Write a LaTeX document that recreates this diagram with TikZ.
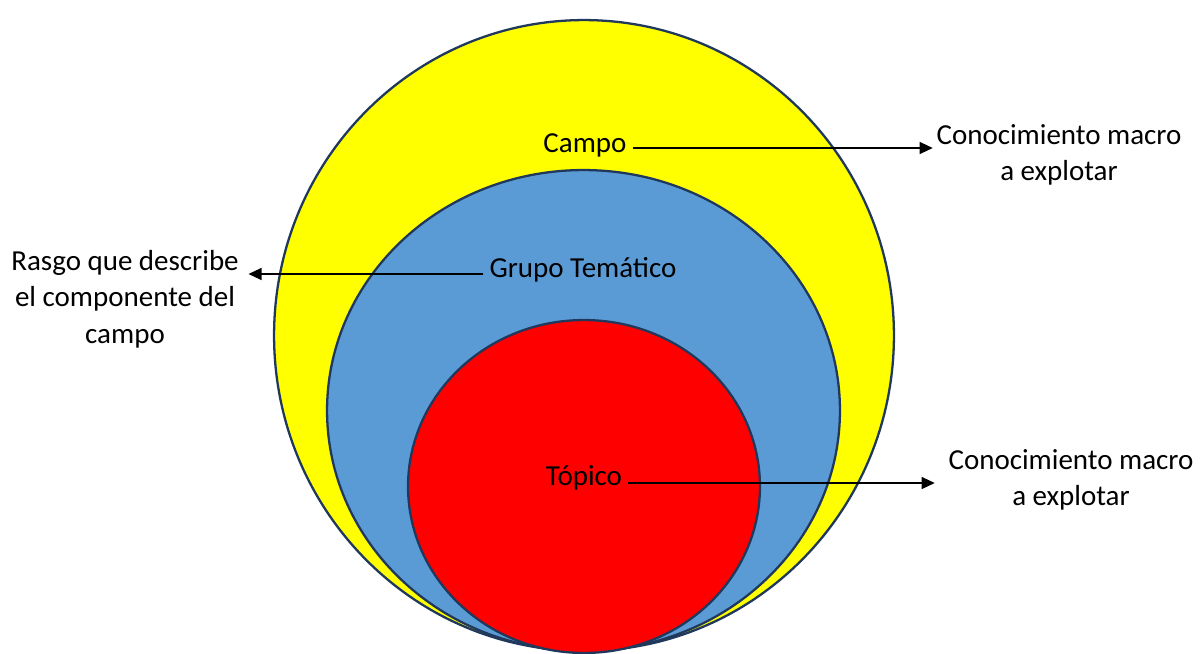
\documentclass[tikz,border=0pt]{standalone}
\usepackage{fontspec}
\setmainfont{Carlito}
\usetikzlibrary{shapes.geometric,arrows.meta}
\definecolor{ringline}{HTML}{1F385C}
\definecolor{grupoblue}{HTML}{5B9BD5}
\definecolor{campoyellow}{HTML}{FFFF00}

\begin{document}
\begin{tikzpicture}[x=0.02cm, y=-0.02cm, font=\fontsize{16.5}{20.8}\selectfont,
    ring/.style = {draw=ringline, line width=1.3pt, ellipse, inner sep=0pt},
    side/.style = {align=center, inner sep=2pt},
    pointer/.style = {line width=0.7pt, -{Triangle[length=0.26cm, width=0.24cm]}}]
    \useasboundingbox (0,0) rectangle (1201,653);

    \node[ring, fill=campoyellow, minimum width=12.4cm, minimum height=12.62cm] (campo) at (584,335.5) {};
    \node[ring, fill=grupoblue, minimum width=10.26cm, minimum height=9.62cm] (grupo) at (583.5,410.5) {};
    \node[ring, fill=red, minimum width=7.04cm, minimum height=6.66cm] (topico) at (584,486.5) {};

    \node (tcampo) at (585,145) {Campo};
    \node (tgrupo) at (583,270) {Grupo Temático};
    \node (ttopico) at (584,478) {Tópico};

    \node[side] (macro1) at (1059,155) {Conocimiento macro\\a explotar};
    \node[side] (macro2) at (1071,480) {Conocimiento macro\\a explotar};
    \node[side] (rasgo) at (125,299) {Rasgo que describe\\el componente del\\campo};

    \path
    ([yshift=-0.06cm]tcampo.east) edge[pointer] ([yshift=-0.06cm]tcampo.east -| macro1.west)
    ([yshift=-0.08cm]tgrupo.west) edge[pointer, shorten >=0.12cm] ([yshift=-0.08cm]tgrupo.west -| rasgo.east)
    ([yshift=-0.1cm]ttopico.east) edge[pointer, shorten >=0.2cm] ([yshift=-0.1cm]ttopico.east -| macro2.west)
    ;
\end{tikzpicture}
\end{document}
